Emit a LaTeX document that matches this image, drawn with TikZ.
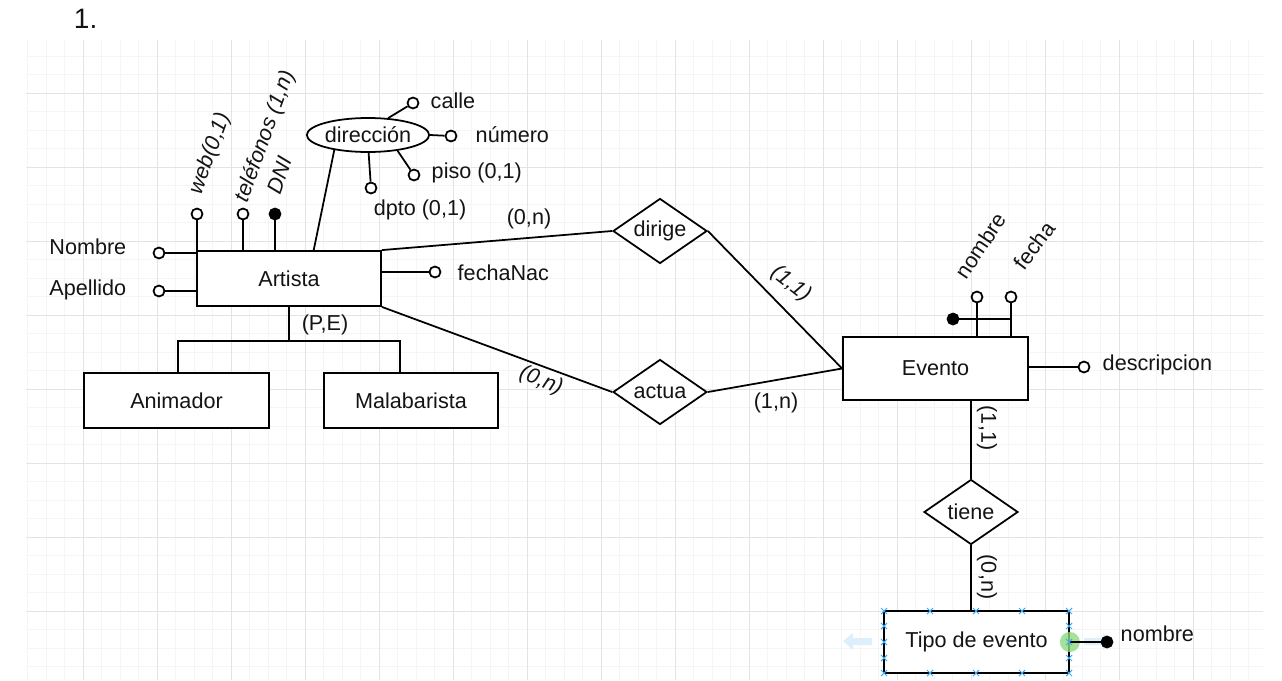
\documentclass[tikz,border=0pt]{standalone}
\usepackage{fontspec}
\setmainfont{Liberation Sans}
\usetikzlibrary{shapes.geometric}
\definecolor{selazul}{HTML}{3FA9F5}
\definecolor{selpalido}{HTML}{DDEFFB}
\definecolor{selverde}{HTML}{8EDB7E}

\begin{document}
\begin{tikzpicture}[x=0.02cm, y=-0.02cm, line width=1pt,
    every node/.style={font=\fontsize{12.3}{14}\selectfont, text=black!92},
    gridfina/.style={line width=0.45pt, black!4},
    gridgruesa/.style={line width=0.5pt, black!11},
    entidad/.style={draw, line width=1.05pt, fill=white, minimum width=3.7cm, minimum height=1.1cm, inner sep=0pt},
    relacion/.style={draw, diamond, aspect=1.45, fill=white, minimum width=1.88cm, minimum height=1.3cm, inner sep=0pt},
    atrib/.style={circle, draw, fill=white, inner sep=0pt, minimum size=0.22cm},
    clave/.style={atrib, fill=black},
    rotado/.style={inner sep=0pt, font=\fontsize{12.3}{14}\selectfont\itshape}]
    \useasboundingbox (0,0) rectangle (1282,680);

    % Cuadricula de fondo
    \foreach \gx in {27.5,46,...,1250} \draw[gridfina] (\gx,40) -- (\gx,680);
    \foreach \gy in {56,74.5,...,670} \draw[gridfina] (26,\gy) -- (1263,\gy);
    \foreach \gx in {83,157,...,1193} \draw[gridgruesa] (\gx,40) -- (\gx,680);
    \foreach \gy in {93,167,...,611} \draw[gridgruesa] (26,\gy) -- (1263,\gy);

    \node[font=\fontsize{16}{18}\selectfont, inner sep=0pt, anchor=base west] (titulo) at (73,28) {1.};

    % Entidades
    \node[entidad, minimum width=3.68cm] (artista) at (289,278.5) {Artista};
    \node[entidad] (animador) at (176.5,400.5) {Animador};
    \node[entidad, minimum width=3.48cm] (malab) at (411,400.5) {Malabarista};
    \node[entidad, minimum height=1.26cm] (evento) at (935.5,368.5) {Evento};
    \node[entidad, minimum height=1.24cm] (tipo) at (976.5,642) {Tipo de evento};
    \node[draw, ellipse, fill=white, minimum width=2.2cm, minimum height=0.68cm, inner sep=0pt] (dir) at (368,135) {dirección};

    % Relaciones
    \node[relacion] (dirige) at (660,231) {dirige};
    \node[relacion] (actua) at (660,392) {actua};
    \node[relacion] (tiene) at (971,512) {tiene};

    \draw (artista.north east) -- (dirige.west);
    \draw (dirige.east) -- (evento.west);
    \draw (artista.south east) -- (actua.west);
    \draw (actua.east) -- (evento.west);
    \draw (tiene.north) -- (tiene.north |- evento.south);
    \draw (tiene.south) -- (tiene.south |- tipo.north);

    \node (cDir1) at (529,219) {(0,n)};
    \node[rotado, rotate=-38] (cDir2) at (791,284) {(1,1)};
    \node[rotado, rotate=-22] (cAct1) at (541,381) {(0,n)};
    \node (cAct2) at (776,403) {(1,n)};
    \node[inner sep=0pt, rotate=-90] (cTie1) at (987,428) {(1,1)};
    \node[inner sep=0pt, rotate=-90] (cTie2) at (987,577) {(0,n)};

    % Jerarquia
    \coordinate (isaI) at (178,341);
    \coordinate (isaD) at (400,341);
    \draw (artista.south) -- (artista.south |- isaI);
    \draw (isaI |- animador.north) -- (isaI) -- (isaD) -- (isaD |- malab.north);
    \node (tPE) at (325,325) {(P,E)};

    % Atributos de Artista
    \node[atrib] (aNom) at (159,253) {};
    \node[atrib] (aApe) at (159,291) {};
    \node[atrib] (aWeb) at (197,214) {};
    \node[atrib] (aTel) at (243,214) {};
    \node[clave] (aDni) at (275,214) {};
    \node[atrib] (aFec) at (435,272) {};
    \draw (aNom) -- (aNom -| artista.west);
    \draw (aApe) -- (aApe -| artista.west);
    \draw (aWeb) -- (aWeb |- artista.north);
    \draw (aTel) -- (aTel |- artista.north);
    \draw (aDni) -- (aDni |- artista.north);
    \draw (aFec) -- (aFec -| artista.east);
    \draw (dir.204) -- (artista.49);
    \node[anchor=east] (tNom) at (133,247) {Nombre};
    \node[anchor=east] (tApe) at (133,290) {Apellido};
    \node[anchor=west] (tFec) at (451,273) {fechaNac};
    \node[rotado, rotate=70, anchor=base west] (tWeb) at (201,196) {web(0,1)};
    \node[rotado, rotate=70, anchor=base west] (tTel) at (247,204) {teléfonos (1,n)};
    \node[rotado, rotate=70, anchor=base west] (tDni) at (280,196) {DNI};

    % Atributos de direccion
    \node[atrib] (aCal) at (413,103) {};
    \node[atrib] (aNum) at (451,136) {};
    \node[atrib] (aPis) at (414,175) {};
    \node[atrib] (aDpt) at (371,188) {};
    \draw (dir.40) -- (aCal);
    \draw (dir.east) -- (aNum);
    \draw (dir.-28) -- (aPis);
    \draw (dir.-88) -- (aDpt);
    \node[anchor=west] (tCal) at (424,101) {calle};
    \node[anchor=west] (tNum) at (469,135) {número};
    \node[anchor=west] (tPis) at (425,173) {piso (0,1)};
    \node (tDpt) at (420,210) {dpto (0,1)};

    % Atributos de Evento
    \node[atrib] (eNom) at (977,297) {};
    \node[atrib] (eFec) at (1011,297) {};
    \node[clave] (eClave) at (953,319) {};
    \node[atrib] (eDes) at (1084,367) {};
    \draw (eNom) -- (eNom |- evento.north);
    \draw (eFec) -- (eFec |- evento.north);
    \draw (eClave) -- (eClave -| eFec);
    \draw (eDes) -- (eDes -| evento.east);
    \node[inner sep=0pt, rotate=56, anchor=base west] (tENom) at (966,281) {nombre};
    \node[inner sep=0pt, rotate=53, anchor=base west] (tEFec) at (1024,272) {fecha};
    \node[anchor=west] (tEDes) at (1096,365) {descripcion};

    % Seleccion de Tipo de evento
    \fill[selpalido] (843,641) -- (853,633) -- (853,638) -- (872,638) -- (872,645) -- (853,645) -- (853,650) -- cycle;
    \fill[selpalido] (1113,641) -- (1103,633) -- (1103,638) -- (1084,638) -- (1084,645) -- (1103,645) -- (1103,650) -- cycle;
    \fill[selverde, opacity=0.8] (tipo.east) circle (0.2cm);
    \node[clave] (tNomb) at (1107,642) {};
    \draw (tNomb) -- (tNomb -| tipo.east);
    \node[anchor=west] (tTNom) at (1114,634) {nombre};
    \foreach \sx in {884,930,976,1022,1069}
      \foreach \sy in {611,673}
        \draw[selazul, line width=0.6pt] (\sx-3,\sy-3) -- (\sx+3,\sy+3) (\sx-3,\sy+3) -- (\sx+3,\sy-3);
    \foreach \sx in {884,1069}
      \foreach \sy in {626,642,658}
        \draw[selazul, line width=0.6pt] (\sx-3,\sy-3) -- (\sx+3,\sy+3) (\sx-3,\sy+3) -- (\sx+3,\sy-3);
\end{tikzpicture}
\end{document}
